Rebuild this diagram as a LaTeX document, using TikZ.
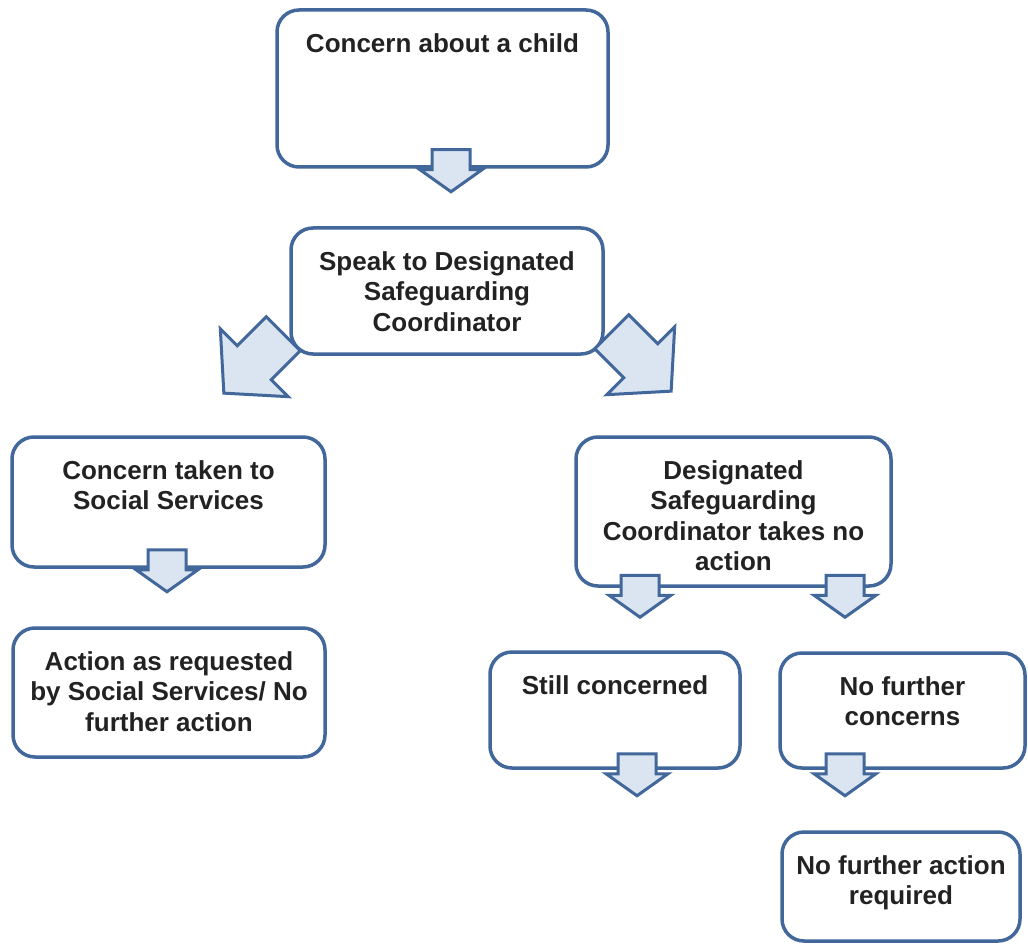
\documentclass[tikz,border=0pt]{standalone}
\usepackage{fontspec}
\setsansfont{Liberation Sans}
\usepackage{tikz}
\usetikzlibrary{positioning}

\definecolor{boxblue}{HTML}{41679B}
\definecolor{arrowfill}{HTML}{DBE5F1}
\definecolor{textgray}{HTML}{222222}

\tikzset{
    box/.style={draw=boxblue, line width=3.5pt, rounded corners=22pt, fill=white},
    boxtext/.style={font=\sffamily\bfseries\fontsize{26}{30.5}\selectfont,
        text=textgray, align=center, inner sep=0pt, below=25pt},
    blockarrow/.style={draw=boxblue, fill=arrowfill, line width=3pt, line join=miter},
    downarrow/.pic={\draw[blockarrow] (0,-19) -- (20,-19) -- (20,-31) -- (42,0)
        -- (20,31) -- (20,19) -- (0,19) -- cycle;},
    diagarrow/.pic={\draw[blockarrow] (0,-24) -- (41,-24) -- (41,-48) -- (84,0)
        -- (41,48) -- (41,24) -- (0,24) -- cycle;},
}

\begin{document}
\begin{tikzpicture}[x=1pt, y=1pt]
\useasboundingbox[fill=white] (0,0) rectangle (1028,-944);

\node[box, minimum width=331pt, minimum height=157pt,
    label={[boxtext]north:Concern about a child}] (concern) at (442.5,-88.5) {};
\node[box, minimum width=312pt, minimum height=126pt,
    label={[boxtext]north:Speak to Designated\\Safeguarding\\Coordinator}] (speak) at (447,-291) {};
\node[box, minimum width=313pt, minimum height=130pt,
    label={[boxtext]north:Concern taken to\\Social Services}] (social) at (168.5,-502) {};
\node[box, minimum width=312pt, minimum height=129pt,
    label={[boxtext]north:Action as requested\\by Social Services/ No\\further action}] (action) at (169,-692.5) {};
\node[box, minimum width=315pt, minimum height=149pt,
    label={[boxtext]north:Designated\\Safeguarding\\Coordinator takes no\\action}] (designated) at (733.5,-511.5) {};
\node[box, minimum width=250pt, minimum height=116pt,
    label={[boxtext]north:Still concerned}] (still) at (615,-710) {};
\node[box, minimum width=245pt, minimum height=115pt,
    label={[boxtext]north:No further\\concerns}] (nofurther) at (902.5,-710.5) {};
\node[box, minimum width=238pt, minimum height=109pt,
    label={[boxtext]north:No further action\\required}] (noaction) at (901,-886.5) {};

\pic[rotate=-90] at ([shift={(8.5,19)}]concern.south) {downarrow};
\pic[rotate=225] at ([shift={(-6,22)}]speak.south west) {diagarrow};
\pic[rotate=-45] at ([shift={(7,24)}]speak.south east) {diagarrow};
\pic[rotate=-90] at ([shift={(-1.5,19)}]social.south) {downarrow};
\foreach \dx in {-93.5,111.5}
    \pic[rotate=-90] at ([shift={(\dx,12.5)}]designated.south) {downarrow};
\pic[rotate=-90] at ([shift={(22,16)}]still.south) {downarrow};
\pic[rotate=-90] at ([shift={(-57.5,16)}]nofurther.south) {downarrow};

\end{tikzpicture}
\end{document}
